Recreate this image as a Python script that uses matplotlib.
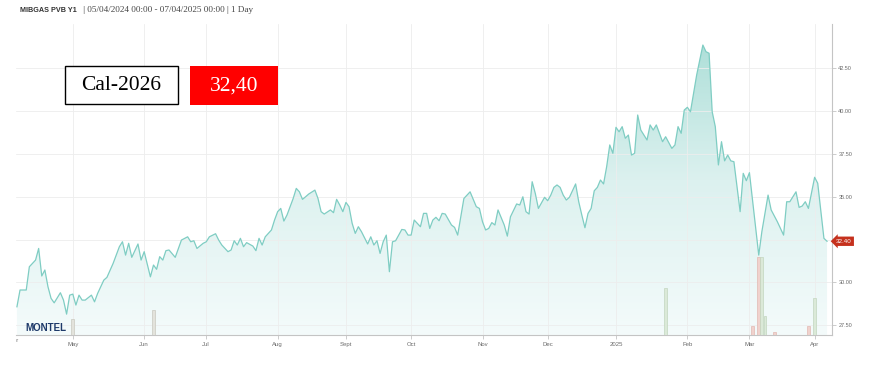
import numpy as np
import matplotlib
matplotlib.use("Agg")
import matplotlib.pyplot as plt
from matplotlib.colors import LinearSegmentedColormap
from matplotlib.patches import Rectangle
from matplotlib.transforms import Bbox, TransformedBbox

# MIBGAS PVB Y1 (Cal-2026) daily settlement
start = "2024-04-05"

dates = [
    "2024-04-05", "2024-04-08", "2024-04-10", "2024-04-11", "2024-04-15", "2024-04-16", "2024-04-17",
    "2024-04-18", "2024-04-19", "2024-04-22", "2024-04-23", "2024-04-25", "2024-04-26", "2024-04-29",
    "2024-04-30",
    "2024-05-01", "2024-05-02", "2024-05-03", "2024-05-06", "2024-05-07", "2024-05-09", "2024-05-10",
    "2024-05-13", "2024-05-15", "2024-05-16", "2024-05-20", "2024-05-22", "2024-05-23", "2024-05-24",
    "2024-05-27", "2024-05-28", "2024-05-30", "2024-05-31",
    "2024-06-03", "2024-06-05", "2024-06-06", "2024-06-07", "2024-06-10", "2024-06-11", "2024-06-12",
    "2024-06-13", "2024-06-17", "2024-06-19", "2024-06-21", "2024-06-24", "2024-06-25", "2024-06-26",
    "2024-06-28",
    "2024-07-01", "2024-07-02", "2024-07-04", "2024-07-05", "2024-07-08", "2024-07-10", "2024-07-11",
    "2024-07-12", "2024-07-15", "2024-07-16", "2024-07-17", "2024-07-18", "2024-07-22", "2024-07-23",
    "2024-07-24", "2024-07-25", "2024-07-26", "2024-07-30", "2024-07-31",
    "2024-08-01", "2024-08-02", "2024-08-05", "2024-08-06", "2024-08-08", "2024-08-09", "2024-08-12",
    "2024-08-13", "2024-08-14", "2024-08-15", "2024-08-19", "2024-08-20", "2024-08-21", "2024-08-22",
    "2024-08-26", "2024-08-27", "2024-08-28", "2024-08-29", "2024-08-30",
    "2024-09-02", "2024-09-03", "2024-09-04", "2024-09-05", "2024-09-06", "2024-09-09", "2024-09-11",
    "2024-09-12", "2024-09-13", "2024-09-16", "2024-09-17", "2024-09-18", "2024-09-19", "2024-09-20",
    "2024-09-23", "2024-09-24", "2024-09-25", "2024-09-26", "2024-09-27", "2024-09-30",
    "2024-10-01", "2024-10-02", "2024-10-04", "2024-10-07", "2024-10-08", "2024-10-09", "2024-10-10",
    "2024-10-11", "2024-10-14", "2024-10-15", "2024-10-16", "2024-10-18", "2024-10-21", "2024-10-22",
    "2024-10-23", "2024-10-24", "2024-10-28", "2024-10-30", "2024-10-31",
    "2024-11-01", "2024-11-04", "2024-11-05", "2024-11-06", "2024-11-07", "2024-11-08", "2024-11-12",
    "2024-11-13", "2024-11-14", "2024-11-18", "2024-11-19", "2024-11-20", "2024-11-21", "2024-11-22",
    "2024-11-25", "2024-11-26", "2024-11-27", "2024-11-28", "2024-11-29",
    "2024-12-02", "2024-12-03", "2024-12-04", "2024-12-05", "2024-12-06", "2024-12-09", "2024-12-10",
    "2024-12-11", "2024-12-13", "2024-12-16", "2024-12-17", "2024-12-18", "2024-12-19", "2024-12-20",
    "2024-12-23", "2024-12-24", "2024-12-25", "2024-12-26", "2024-12-27", "2024-12-30", "2024-12-31",
    "2025-01-01", "2025-01-02", "2025-01-03", "2025-01-06", "2025-01-07", "2025-01-08", "2025-01-09",
    "2025-01-10", "2025-01-13", "2025-01-15", "2025-01-16", "2025-01-17", "2025-01-20", "2025-01-22",
    "2025-01-23", "2025-01-27", "2025-01-28", "2025-01-29", "2025-01-30", "2025-01-31",
    "2025-02-03", "2025-02-04", "2025-02-05", "2025-02-06", "2025-02-10", "2025-02-11", "2025-02-12",
    "2025-02-13", "2025-02-14", "2025-02-17", "2025-02-18", "2025-02-19", "2025-02-20", "2025-02-21",
    "2025-02-24", "2025-02-26", "2025-02-27", "2025-02-28",
    "2025-03-03", "2025-03-06", "2025-03-07", "2025-03-11", "2025-03-12", "2025-03-14", "2025-03-18",
    "2025-03-19", "2025-03-20", "2025-03-24", "2025-03-25", "2025-03-26", "2025-03-27", "2025-03-28",
    "2025-04-01", "2025-04-02", "2025-04-04", "2025-04-07",
]

prices = [
    28.57, 29.55, 29.55, 30.91, 31.30, 31.98, 30.37, 30.72, 29.74, 29.06, 28.80, 29.39, 28.96, 28.14, 29.25,
    29.31, 28.67, 29.25, 28.96, 28.96, 29.25, 28.86, 29.35, 30.13, 30.29, 31.11, 32.08, 32.37, 31.59, 32.28,
    31.46, 32.24, 31.30,
    31.79, 30.32, 31.01, 30.76, 31.50, 31.30, 31.85, 31.89, 31.46, 32.47, 32.66, 32.37, 32.43, 31.98, 32.28,
    32.37, 32.66, 32.84, 32.47, 32.18, 31.79, 31.89, 32.43, 32.18, 32.57, 32.08, 32.32, 32.12, 31.85, 32.57,
    32.18, 32.66, 33.06, 33.64,
    34.13, 34.32, 33.58, 33.93, 34.90, 35.49, 35.29, 34.85, 35.00, 35.16, 35.39, 34.90, 34.13, 33.99, 34.23,
    34.07, 34.85, 34.52, 34.13,
    34.67, 34.42, 33.45, 32.86, 33.25, 32.96, 32.24, 32.66, 32.18, 32.43, 31.69, 32.37, 32.76, 30.62, 32.37,
    32.43, 32.76, 33.09, 33.06, 32.76,
    32.76, 33.64, 33.25, 34.03, 34.03, 33.15, 33.64, 33.80, 33.60, 34.03, 33.99, 33.35, 33.21, 32.76, 33.83,
    34.90, 35.29, 34.42, 34.32,
    33.54, 33.06, 33.15, 33.49, 33.35, 34.23, 33.35, 32.70, 33.83, 34.58, 34.52, 35.00, 34.13, 33.99, 35.88,
    35.20, 34.32, 34.65, 34.97,
    34.77, 35.10, 35.55, 35.69, 35.55, 35.10, 34.81, 34.97, 35.75, 34.71, 33.93, 33.19, 34.03, 34.32, 35.35,
    35.55, 35.98, 35.75, 36.76, 38.03, 37.54,
    39.06, 38.80, 39.10, 38.42, 38.61, 37.44, 37.54, 39.78, 38.90, 38.32, 39.20, 38.90, 39.20, 38.22, 38.51,
    37.83, 38.03, 39.10, 38.71, 40.07,
    40.23, 39.97, 41.05, 42.12, 43.87, 43.48, 43.39, 39.97, 39.10, 36.86, 38.22, 37.10, 37.44, 37.10, 37.05,
    34.13, 36.37, 35.94,
    36.41, 31.59, 32.96, 35.10, 34.23, 33.54, 32.76, 34.71, 34.71, 35.29, 34.38, 34.46, 34.71, 34.32,
    36.14, 35.79, 32.57, 32.40,
]

# traded volume bars at the bottom
vol_dates = ["2024-05-01", "2024-06-06", "2025-01-23", "2025-03-04", "2025-03-06",
             "2025-03-07", "2025-03-10", "2025-03-13", "2025-03-28", "2025-04-01"]
vol_lots = [5, 8, 15, 3, 25, 25, 6, 1, 3, 12]
vol_side = ["flat", "flat", "up", "down", "down", "up", "up", "down", "down", "up"]

month_starts = ["2024-05-01", "2024-06-01", "2024-07-01", "2024-08-01", "2024-09-01",
                "2024-10-01", "2024-11-01", "2024-12-01", "2025-01-01", "2025-02-01", "2025-03-01",
                "2025-04-01"]
month_labels = ["May", "Jun", "Jul", "Aug", "Sept", "Oct", "Nov", "Dec", "2025", "Feb", "Mar", "Apr"]
first_label = "Apr"
price_ticks = [27.5, 30.0, 32.5, 35.0, 37.5, 40.0, 42.5]

contract = "Cal-2026"
last_label = "32,40"
title_bold = "MIBGAS PVB Y1"
title_rest = " | 05/04/2024 00:00 - 07/04/2025 00:00 | 1 Day"

W, H = 869, 368
GRID = "#ededed"
AXIS = "#c4c4c4"
TXT = "#6a6a6a"

# trading-day axis (weekends removed)
x = np.busday_count(start, dates)
vx = np.busday_count(start, vol_dates)
first_days = np.busday_offset(month_starts, 0, roll="forward")
mx = np.busday_count(start, first_days)

fig = plt.figure(figsize=(W / 100, H / 100), dpi=100)
ax = fig.add_axes([16 / W, 1 - 335 / H, (832 - 16) / W, (335 - 24) / H])
axv = ax.twinx()

x0, x1 = -0.3, 262.6
y0, y1 = 26.92, 45.1

# gradient area under the line
cmap = LinearSegmentedColormap.from_list("teal", ["#f4fbfb", "#dcf1ef", "#a8ddd6"])
area = ax.fill_between(x, prices, y0, facecolor="none", edgecolor="none")
grad = np.linspace(0, 1, 256).reshape(-1, 1)
img = ax.imshow(grad, extent=(x0, x1, y0, y1), origin="lower", aspect="auto",
                cmap=cmap, interpolation="bilinear", zorder=1)
img.set_clip_path(area.get_paths()[0], ax.transData)
ax.plot(x, prices, color="#7fcdc3", lw=0.9, zorder=3)

ax.set_xlim(x0, x1)
ax.set_ylim(y0, y1)

# the last-price tag sits where the 32.50 label would be, so that label stays hidden
last = prices[-1]
ax.set_yticks(price_ticks)
ax.set_yticklabels(["" if abs(v - last) < 0.5 else f"{v:.2f}" for v in price_ticks])
ax.set_xticks(mx)
ax.set_xticklabels(month_labels)
ax.tick_params(axis="y", left=False, right=True, labelleft=False, labelright=True,
               length=3, width=0.6, color=AXIS, labelsize=4, labelcolor=TXT, pad=1.5)
ax.tick_params(axis="x", length=3, width=0.6, color=AXIS, labelsize=4.3, labelcolor=TXT, pad=2)
for lab in ax.get_xticklabels() + ax.get_yticklabels():
    lab.set_family("Liberation Sans")
ax.grid(True, color=GRID, lw=0.6)

for side in ["top", "left"]:
    ax.spines[side].set_visible(False)
for side in ["bottom", "right"]:
    ax.spines[side].set_color(AXIS)
    ax.spines[side].set_linewidth(0.8)

# first month label is cut off by the plot edge
t = ax.text(-0.002, -0.011, first_label, transform=ax.transAxes, ha="center", va="top",
            fontsize=4.3, color=TXT, family="Liberation Sans")
t.set_clip_path(None)
t.set_clip_box(TransformedBbox(Bbox([[16 / W, 0], [1, 1]]), fig.transFigure))
t.set_clip_on(True)

# volume on its own scale
side_fc = {"flat": "#e3e3dc", "up": "#dbe9d8", "down": "#f0d2cd"}
side_ec = {"flat": "#c9c9c0", "up": "#c2d6bf", "down": "#e2b9b3"}
axv.bar(vx, vol_lots, width=0.9, color=[side_fc[s] for s in vol_side],
        edgecolor=[side_ec[s] for s in vol_side], lw=0.5, zorder=4)
axv.set_ylim(0, 100)
axv.axis("off")

# last price tag
axv.text(1.0 + 4 / 816, last, f"{last:.2f}", transform=ax.get_yaxis_transform(),
         ha="left", va="center", fontsize=4.5, color="white", family="Liberation Sans", zorder=10,
         bbox=dict(boxstyle="larrow,pad=0.35", fc="#c5311d", ec="none"))

# header
fig.text(20 / W, 1 - 10 / H, title_bold, fontsize=5.2, fontweight="bold", color="#333333",
         family="Liberation Sans", va="center")
fig.text(81 / W, 1 - 10 / H, title_rest, fontsize=6.6, color="#444444",
         family="Liberation Serif", va="center")

# MONTEL mark
fig.text(25 / W, 1 - 328 / H, "MONTEL", fontsize=7, fontweight="bold", color="#1e3a6a",
         family="Liberation Sans", va="center")

# contract / last price boxes
fig.patches.append(Rectangle((65 / W, 1 - 104 / H), 113 / W, 38 / H, transform=fig.transFigure,
                             fc="white", ec="black", lw=1))
fig.patches.append(Rectangle((190 / W, 1 - 105 / H), 88 / W, 39 / H, transform=fig.transFigure,
                             fc="#ff0000", ec="none"))
fig.text(121.5 / W, 1 - 86 / H, contract, fontsize=15.5, color="black",
         family="Liberation Serif", ha="center", va="center")
fig.text(234 / W, 1 - 86 / H, last_label, fontsize=15.5, color="white",
         family="Liberation Serif", ha="center", va="center")

fig.savefig("out.png", dpi=100)
